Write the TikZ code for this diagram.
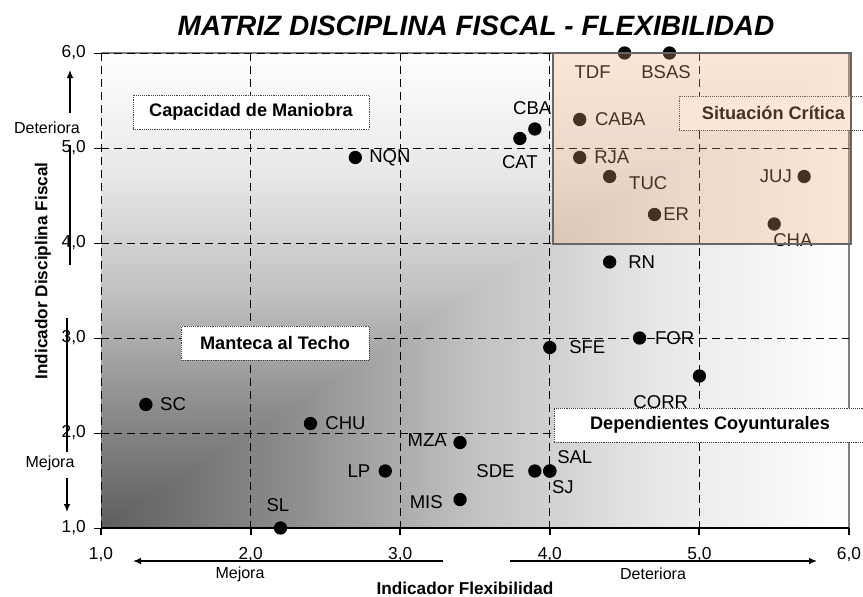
\documentclass[tikz,border=0pt]{standalone}
\usepackage{fontspec}
\setmainfont{Liberation Sans}
\usetikzlibrary{arrows.meta,calc}
\definecolor{g0}{gray}{0.37}
\definecolor{g1}{gray}{0.55}
\definecolor{g2}{gray}{0.76}
\definecolor{g3}{gray}{0.91}
\definecolor{peach}{RGB}{242,171,123}
\pgfdeclarehorizontalshading{bgh}{100bp}{color(0bp)=(g0); color(25bp)=(g0); color(37.5bp)=(g1); color(50bp)=(g2); color(62.5bp)=(g3); color(75bp)=(white); color(100bp)=(white)}
\pgfdeclareverticalshading{bgv}{100bp}{color(0bp)=(g0); color(25bp)=(g0); color(37.5bp)=(g1); color(50bp)=(g2); color(62.5bp)=(g3); color(75bp)=(white); color(100bp)=(white)}
\begin{document}
\begin{tikzpicture}[x=0.75pt,y=-0.75pt,
  grid/.style={line width=0.75pt, dash pattern=on 6pt off 3.75pt},
  dot/.style={circle, fill=black, minimum size=10pt, inner sep=0pt},
  lab/.style={inner sep=0pt, font=\fontsize{13.9}{16}\selectfont},
  ticklab/.style={inner sep=0pt, font=\fontsize{13}{15}\selectfont},
  arrlab/.style={inner sep=0pt, font=\fontsize{12}{14}\selectfont},
  zone/.style={draw=black!75, densely dotted, fill=white, inner sep=0pt, minimum height=25.5pt, font=\fontsize{13.6}{16}\selectfont\bfseries},
  arrline/.style={line width=1pt},
  arr/.style={line width=1pt, -{Latex[length=6pt,width=5pt]}}]
\useasboundingbox (0,0) rectangle (863,596);
% background gradient
\shade[shading=bgh] (101,53) rectangle (849,528);
\shade[shading=bgv] (101,528) -- (101,53) -- (849,53) -- cycle;
% borders
\draw[gray, line width=0.9pt] (101,53) -- (849,53) -- (849,528);
% grid
\foreach \gx in {101,250.6,400.2,549.8,699.4} \draw[grid] (\gx,53) -- (\gx,528);
\foreach \gy in {53,148,243,338,433} \draw[grid] (101,\gy) -- (849,\gy);
% y ticks and labels
\foreach \gy/\t in {528/{1,0},433/{2,0},338/{3,0},243/{4,0},148/{5,0},53/{6,0}} {
  \draw[line width=0.75pt] (94,\gy) -- (101,\gy);
  \node[ticklab, anchor=east] at (86,\gy) {\t};
}
% zone labels
\node[zone, minimum width=177pt] (capm) at (251,112) {Capacidad de Maniobra};
\node[zone, minimum width=141pt] (mant) at (275,343) {Manteca al Techo};
\node[zone, minimum width=234pt] (depc) at (710,425) {Dependientes Coyunturales};
\node[zone, minimum width=142pt] (sitc) at (773.5,113) {Situación Crítica};
% data
\begin{scope}[shift={(-48.6,623)}, x=112.2pt, y=71.25pt]
\node[dot] (TDF) at (4.5,6.0) {};
\node[dot] (BSAS) at (4.8,6.0) {};
\node[dot] (CBA) at (3.9,5.2) {};
\node[dot] (CAT) at (3.8,5.1) {};
\node[dot] (NQN) at (2.7,4.9) {};
\node[dot] (CABA) at (4.2,5.3) {};
\node[dot] (RJA) at (4.2,4.9) {};
\node[dot] (TUC) at (4.4,4.7) {};
\node[dot] (ER) at (4.7,4.3) {};
\node[dot] (JUJ) at (5.7,4.7) {};
\node[dot] (CHA) at (5.5,4.2) {};
\node[dot] (RN) at (4.4,3.8) {};
\node[dot] (SFE) at (4.0,2.9) {};
\node[dot] (FOR) at (4.6,3.0) {};
\node[dot] (CORR) at (5.0,2.6) {};
\node[dot] (SC) at (1.3,2.3) {};
\node[dot] (CHU) at (2.4,2.1) {};
\node[dot] (MZA) at (3.4,1.9) {};
\node[dot] (LP) at (2.9,1.6) {};
\node[dot] (SDE) at (3.9,1.6) {};
\node[dot] (SAL) at (4.0,1.6) {};
\node[dot] (SJ) at (4.0,1.6) {};
\node[dot] (MIS) at (3.4,1.3) {};
\node[dot] (SL) at (2.2,1.0) {};
% labels
\node[lab] (TDFl) at ([shift={(-24pt,-14pt)}]TDF.center) {TDF};
\node[lab] (BSASl) at ([shift={(-2.6pt,-14pt)}]BSAS.center) {BSAS};
\node[lab] (CBAl) at ([shift={(-2pt,16pt)}]CBA.center) {CBA};
\node[lab] (CATl) at ([shift={(0pt,-17.6pt)}]CAT.center) {CAT};
\node[lab, anchor=west] (NQNl) at ([shift={(10.3pt,0pt)}]NQN.center) {NQN};
\node[lab, anchor=west] (CABAl) at ([shift={(11.3pt,0pt)}]CABA.center) {CABA};
\node[lab, anchor=west] (RJAl) at ([shift={(10.7pt,0pt)}]RJA.center) {RJA};
\node[lab, anchor=west] (TUCl) at ([shift={(14.5pt,-4.9pt)}]TUC.center) {TUC};
\node[lab, anchor=west] (ERl) at ([shift={(6.4pt,0pt)}]ER.center) {ER};
\node[lab, anchor=east] (JUJl) at ([shift={(-9pt,0pt)}]JUJ.center) {JUJ};
\node[lab] (CHAl) at ([shift={(14pt,-12pt)}]CHA.center) {CHA};
\node[lab, anchor=west] (RNl) at ([shift={(13.8pt,0pt)}]RN.center) {RN};
\node[lab, anchor=west] (SFEl) at ([shift={(14.4pt,0pt)}]SFE.center) {SFE};
\node[lab, anchor=west] (FORl) at ([shift={(11.5pt,0pt)}]FOR.center) {FOR};
\node[lab] (CORRl) at ([shift={(-29pt,-19.5pt)}]CORR.center) {CORR};
\node[lab, anchor=west] (SCl) at ([shift={(10.5pt,0pt)}]SC.center) {SC};
\node[lab, anchor=west] (CHUl) at ([shift={(11pt,0pt)}]CHU.center) {CHU};
\node[lab, anchor=east] (MZAl) at ([shift={(-9.75pt,2pt)}]MZA.center) {MZA};
\node[lab, anchor=east] (LPl) at ([shift={(-11pt,0pt)}]LP.center) {LP};
\node[lab, anchor=east] (SDEl) at ([shift={(-15pt,0pt)}]SDE.center) {SDE};
\node[lab, anchor=west] (SALl) at ([shift={(5.4pt,10.5pt)}]SAL.center) {SAL};
\node[lab, anchor=west] (SJl) at ([shift={(1.5pt,-12pt)}]SJ.center) {SJ};
\node[lab, anchor=east] (MISl) at ([shift={(-12.8pt,-2pt)}]MIS.center) {MIS};
\node[lab] (SLl) at ([shift={(-2pt,17pt)}]SL.center) {SL};
\end{scope}
% critical zone overlay
\fill[peach, fill opacity=0.29] (553,53) rectangle (851,244);
\draw[black!60, line width=1.1pt] (553,53) rectangle (851,244);
% x axis
\draw[line width=2.2pt] (101,528) -- (849,528);
\foreach \gx/\t in {101/{1,0},250.6/{2,0},400.2/{3,0},549.8/{4,0},699.4/{5,0},849/{6,0}} {
  \draw[line width=1.5pt] (\gx,528) -- (\gx,535);
  \node[ticklab] at (\gx,555) {\t};
}
% x direction arrows
\coordinate (xm0) at (443,561);
\coordinate (xm1) at (133,561);
\coordinate (xd0) at (510,561);
\coordinate (xd1) at (817,561);
\draw[arr] (xm0) -- (xm1);
\draw[arr] (xd0) -- (xd1);
\node[arrlab, anchor=base] (xmej) at (240,578) {Mejora};
\node[arrlab, anchor=base] (xdet) at (653,579) {Deteriora};
% y direction arrows (interrupted by their labels)
\node[arrlab] (ydet) at (47,128) {Deteriora};
\node[arrlab] (ymej) at (50,463) {Mejora};
\coordinate (yd0) at (70,265);
\coordinate (yd1) at (70,70);
\coordinate (ym0) at (67,318);
\coordinate (ym1) at (67,512);
\draw[arrline] (yd0) -- (70,145);
\draw[arr] (70,113) -- (yd1);
\draw[arrline] (ym0) -- (67,452);
\draw[arr] (67,478) -- (ym1);
% titles
\node[inner sep=0pt, anchor=base, font=\fontsize{21}{24}\selectfont\bfseries\itshape] (title) at (476,35) {MATRIZ DISCIPLINA FISCAL - FLEXIBILIDAD};
\node[inner sep=0pt, font=\fontsize{12.9}{15}\selectfont\bfseries] (xtitle) at (465,588) {Indicador Flexibilidad};
\node[inner sep=0pt, rotate=90, font=\fontsize{12.9}{15}\selectfont\bfseries] (ytitle) at (43,271) {Indicador Disciplina Fiscal};
\end{tikzpicture}
\end{document}
